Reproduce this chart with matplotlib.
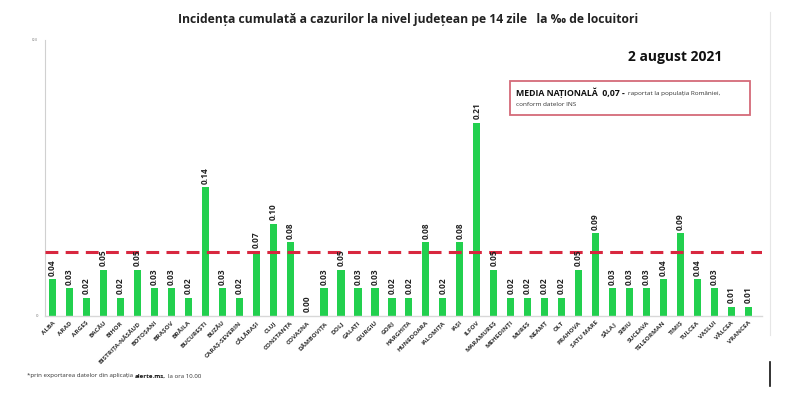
import matplotlib.pyplot as plt
from matplotlib.patches import Rectangle
from matplotlib.lines import Line2D

# ----------------------------
# DATA
# ----------------------------
judete = [
    "ALBA", "ARAD", "ARGEȘ", "BACĂU", "BIHOR", "BISTRIȚA-NĂSĂUD", "BOTOȘANI",
    "BRAȘOV", "BRĂILA", "BUCUREȘTI", "BUZĂU", "CARAȘ-SEVERIN", "CĂLĂRAȘI",
    "CLUJ", "CONSTANȚA", "COVASNA", "DÂMBOVIȚA", "DOLJ", "GALAȚI", "GIURGIU",
    "GORJ", "HARGHITA", "HUNEDOARA", "IALOMIȚA", "IAȘI", "ILFOV", "MARAMUREȘ",
    "MEHEDINȚI", "MUREȘ", "NEAMȚ", "OLT", "PRAHOVA", "SATU MARE", "SĂLAJ",
    "SIBIU", "SUCEAVA", "TELEORMAN", "TIMIȘ", "TULCEA", "VASLUI", "VÂLCEA",
    "VRANCEA",
]

incidenta = [
    0.04, 0.03, 0.02, 0.05, 0.02, 0.05, 0.03,
    0.03, 0.02, 0.14, 0.03, 0.02, 0.07,
    0.10, 0.08, 0.00, 0.03, 0.05, 0.03, 0.03,
    0.02, 0.02, 0.08, 0.02, 0.08, 0.21, 0.05,
    0.02, 0.02, 0.02, 0.02, 0.05, 0.09, 0.03,
    0.03, 0.03, 0.04, 0.09, 0.04, 0.03, 0.01,
    0.01,
]

media_nationala = 0.07

# ----------------------------
# PLOT
# ----------------------------
plt.rcParams["font.family"] = ["Open Sans", "DejaVu Sans"]

fig = plt.figure(figsize=(8, 4.08), dpi=100)
ax = fig.add_axes([0.056, 0.2255, 0.8965, 0.6765])

x = list(range(len(judete)))
ax.bar(x, incidenta, width=0.42, color="#22d04e", zorder=2)

for xi, v in zip(x, incidenta):
    ax.text(
        xi, v + 0.004, f"{v:.2f}",
        rotation=90, ha="center", va="bottom",
        fontsize=6, fontweight="bold", color="#222222", zorder=4
    )

ax.axhline(
    media_nationala, color="#d8273f", linewidth=2.2,
    dashes=(4.2, 2.4), zorder=3
)

ax.set_xlim(-0.45, 41.8)
ax.set_ylim(0, 0.3)
ax.set_xticks(x)
ax.set_xticklabels(
    judete, rotation=45, ha="right", rotation_mode="anchor",
    fontsize=4.6, fontweight="bold", color="#333333"
)
ax.set_yticks([0, 0.3])
ax.set_yticklabels(["0", "0.3"], fontsize=3, color="#666666")
ax.tick_params(axis="both", length=0, pad=3)
ax.tick_params(axis="y", pad=5)

for s in ["top", "right"]:
    ax.spines[s].set_visible(False)
ax.spines["left"].set_color("#d0d0d0")
ax.spines["bottom"].set_color("#d8d8d8")
ax.spines["left"].set_linewidth(0.8)
ax.spines["bottom"].set_linewidth(1.0)

# ----------------------------
# TEXTS
# ----------------------------
fig.text(
    0.51, 1 - 20 / 408,
    "Incidența cumulată a cazurilor la nivel județean pe 14 zile   la ‰ de locuitori",
    ha="center", va="center", fontsize=8.7, fontweight="bold", color="#222222"
)
fig.text(
    722 / 800, 1 - 57 / 408, "2 august 2021",
    ha="right", va="center", fontsize=10, fontweight="bold", color="#111111"
)

# box with the national average
fig.patches.append(Rectangle(
    (510 / 800, 1 - 115 / 408), 240 / 800, 34 / 408,
    transform=fig.transFigure, facecolor="none",
    edgecolor="#d46a78", linewidth=1.3, zorder=5
))
t_media = fig.text(
    516 / 800, 1 - 93 / 408, "MEDIA NAȚIONALĂ  0,07 -",
    ha="left", va="center", fontsize=6.3, fontweight="bold",
    color="#111111", zorder=6
)
ax.annotate(
    "raportat la populația României,",
    xy=(1, 0.5), xycoords=t_media, xytext=(2.5, 0), textcoords="offset points",
    ha="left", va="center", fontsize=4.6, color="#333333",
    zorder=6, annotation_clip=False
)
fig.text(
    516 / 800, 1 - 104 / 408, "conform datelor INS",
    ha="left", va="center", fontsize=4.6, color="#333333", zorder=6
)

# footnote
t_foot1 = fig.text(
    27 / 800, 1 - 376 / 408,
    "*prin exportarea datelor din aplicația",
    ha="left", va="center", fontsize=4.4, color="#333333"
)
t_foot2 = ax.annotate(
    "alerte.ms,",
    xy=(1, 0.5), xycoords=t_foot1, xytext=(1.5, 0), textcoords="offset points",
    ha="left", va="center", fontsize=4.4, fontweight="bold",
    color="#111111", annotation_clip=False
)
ax.annotate(
    "la ora 10.00",
    xy=(1, 0.5), xycoords=t_foot2, xytext=(1.5, 0), textcoords="offset points",
    ha="left", va="center", fontsize=4.4, color="#333333",
    annotation_clip=False
)

# screenshot border lines at the right edge
fig.lines.append(Line2D(
    [770 / 800, 770 / 800], [1 - 12 / 408, 1 - 335 / 408],
    transform=fig.transFigure, color="#e6e6e6", linewidth=0.8
))
fig.lines.append(Line2D(
    [770 / 800, 770 / 800], [1 - 362 / 408, 1 - 386 / 408],
    transform=fig.transFigure, color="#111111", linewidth=1.2
))

fig.savefig("out.png", dpi=100)
